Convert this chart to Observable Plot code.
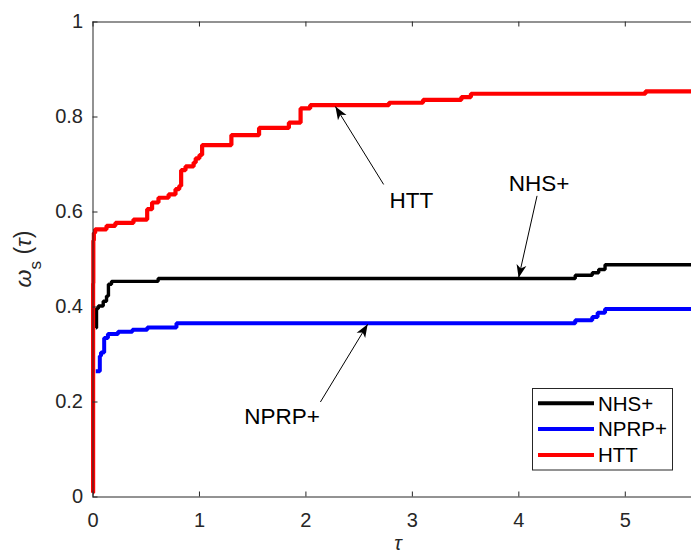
<!DOCTYPE html>
<html><head><meta charset="utf-8">
<script src="https://cdn.jsdelivr.net/npm/d3@7"></script>
<script src="https://cdn.jsdelivr.net/npm/@observablehq/plot@0.6"></script>
<style>
html,body{margin:0;padding:0;background:#fff;overflow:hidden;}
#wrap{position:relative;width:691px;height:558px;overflow:hidden;background:#fff;}
</style></head><body><div id="wrap"></div>
<script>
// ---- data ----
const seriesNames = ["NHS+", "NPRP+", "HTT"];
const seriesColors = ["#000000", "#0000ff", "#ff0000"];
const seriesWidths = [3.4, 4, 4.2];

const nhsTau   = [0.026, 0.033, 0.05, 0.096, 0.127, 0.145, 0.174, 0.612, 4.53, 4.69, 4.75, 4.81, 5.73];
const nhsOmega = [0.356, 0.397, 0.402, 0.412, 0.423, 0.448, 0.454, 0.46, 0.467, 0.472, 0.479, 0.489, 0.489];

const nprpTau   = [0.026, 0.064, 0.075, 0.105, 0.14, 0.235, 0.37, 0.51, 0.784, 4.53, 4.69, 4.74, 4.81, 5.73];
const nprpOmega = [0.265, 0.297, 0.304, 0.335, 0.343, 0.348, 0.352, 0.357, 0.366, 0.372, 0.379, 0.388, 0.396, 0.396];

const httTau   = [0, 0.001, 0.003, 0.008, 0.02, 0.127, 0.21, 0.38, 0.509, 0.555, 0.615, 0.71, 0.775, 0.81, 0.828, 0.869, 0.945, 0.965, 1.0, 1.025, 1.30, 1.56, 1.84, 1.95, 2.04, 2.78, 3.10, 3.46, 3.55, 5.19, 5.73];
const httOmega = [0.009, 0.45, 0.54, 0.556, 0.5635, 0.571, 0.577, 0.584, 0.606, 0.62, 0.63, 0.637, 0.648, 0.655, 0.688, 0.696, 0.704, 0.713, 0.72, 0.741, 0.762, 0.777, 0.788, 0.818, 0.825, 0.830, 0.836, 0.842, 0.849, 0.854, 0.854];

const xTicks = [0, 1, 2, 3, 4, 5];
const yTicks = [0, 0.2, 0.4, 0.6, 0.8, 1];
const xMax = 5.73;

const annotLabels = ["HTT", "NHS+", "NPRP+"];
const annotTextX = [2.99, 4.19, 1.776];
const annotTextY = [0.624, 0.659, 0.168];
const arrowFromX = [2.73, 4.171, 2.136];
const arrowFromY = [0.658, 0.634, 0.2];
const arrowToX = [2.277, 3.998, 2.580];
const arrowToY = [0.822, 0.4617, 0.3636];

// ---- build tables ----
const taus = [nhsTau, nprpTau, httTau];
const omegas = [nhsOmega, nprpOmega, httOmega];
const seriesData = seriesNames.map((name, i) => taus[i].map((t, j) => ({series: name, tau: t, omega: omegas[i][j]})));
const annots = annotLabels.map((l, i) => ({label: l, tx: annotTextX[i], ty: annotTextY[i], x1: arrowFromX[i], y1: arrowFromY[i], x2: arrowToX[i], y2: arrowToY[i]}));

const W = 703, H = 575, mL = 92.5, mR = 0.5, mT = 21.5, mB = 78.5;
const FW = W - mL - mR, FH = H - mT - mB;
const axisColor = "#262626";
const tickLen = 5;

const chart = Plot.plot({
  width: W, height: H,
  marginLeft: mL, marginRight: mR, marginTop: mT, marginBottom: mB,
  x: {domain: [0, xMax]},
  y: {domain: [0, 1]},
  style: {fontFamily: "'Liberation Sans', Arial, sans-serif", fontSize: "20px", color: axisColor, background: "white", maxWidth: "none", overflow: "hidden"},
  marks: [
    Plot.axisX(xTicks, {anchor: "bottom", tickSize: 0, tickPadding: 16, label: null, fontSize: 20, tickFormat: d => String(d)}),
    Plot.axisY(yTicks, {anchor: "left", tickSize: 0, tickPadding: 10, label: null, fontSize: 20, tickFormat: d => (d === 0 || d === 1) ? String(d) : d.toFixed(1)}),
    ...seriesData.map((data, i) => Plot.line(data, {x: "tau", y: "omega", stroke: seriesColors[i], strokeWidth: seriesWidths[i], curve: "step-after", strokeLinejoin: "miter", strokeLinecap: "butt"})),
    Plot.link(annots, {x1: "x1", y1: "y1", x2: "x2", y2: "y2", stroke: "black", strokeWidth: 1, markerEnd: "arrow"}),
    Plot.text(annots, {x: "tx", y: "ty", text: "label", fontSize: 22.5, fill: "black"}),
    Plot.text(["τ"], {frameAnchor: "bottom", text: d => d, dy: 53, fontSize: 20, fontStyle: "italic", fill: axisColor}),
    Plot.ruleX(xTicks, {x: d => d, insetTop: FH - tickLen, stroke: axisColor, strokeWidth: 1}),
    Plot.ruleX(xTicks, {x: d => d, insetBottom: FH - tickLen, stroke: axisColor, strokeWidth: 1}),
    Plot.ruleY(yTicks, {y: d => d, insetRight: FW - tickLen, stroke: axisColor, strokeWidth: 1}),
    Plot.ruleY(yTicks, {y: d => d, insetLeft: FW - tickLen, stroke: axisColor, strokeWidth: 1}),
    Plot.frame({stroke: axisColor, strokeWidth: 1})
  ]
});
document.getElementById("wrap").appendChild(chart);

// filled MATLAB-style arrow heads
chart.querySelectorAll("marker").forEach(m => {
  m.setAttribute("viewBox", "-14 -6 15 12");
  m.setAttribute("markerWidth", "15");
  m.setAttribute("markerHeight", "12");
  m.setAttribute("markerUnits", "userSpaceOnUse");
  m.setAttribute("refX", "0");
  m.setAttribute("refY", "0");
  m.setAttribute("fill", "black");
  m.setAttribute("stroke", "none");
  m.innerHTML = "";
  const p = document.createElementNS("http://www.w3.org/2000/svg", "path");
  p.setAttribute("d", "M0,0L-13,-5L-9.5,0L-13,5Z");
  m.appendChild(p);
});

// y-axis label with subscript
const svg = d3.select(chart);
const yl = svg.append("text")
  .attr("transform", "translate(31,259) rotate(-90)")
  .attr("text-anchor", "middle")
  .attr("font-size", 23)
  .attr("fill", axisColor);
yl.append("tspan").attr("font-style", "italic").text("ω");
yl.append("tspan").attr("font-size", 17).attr("dy", 10).text("s");
yl.append("tspan").attr("dy", -10).text(" (");
yl.append("tspan").attr("font-style", "italic").text("τ");
yl.append("tspan").text(")");

// legend box (inside the axes, lower right)
const lg = d3.select("#wrap").append("svg")
  .attr("width", 142).attr("height", 84)
  .style("position", "absolute").style("left", "532px").style("top", "388px")
  .style("font-family", "'Liberation Sans', Arial, sans-serif");
lg.append("rect").attr("x", 0.5).attr("y", 0.5).attr("width", 140).attr("height", 81.5)
  .attr("fill", "white").attr("stroke", axisColor).attr("stroke-width", 1);
seriesNames.forEach((n, i) => {
  const cy = 15.3 + i * 25.8;
  lg.append("line").attr("x1", 6).attr("x2", 62).attr("y1", cy).attr("y2", cy)
    .attr("stroke", seriesColors[i]).attr("stroke-width", 4);
  lg.append("text").attr("x", 66).attr("y", cy).attr("dy", "0.36em")
    .attr("font-size", 20.5).attr("fill", "black").text(n);
});
</script></body></html>
